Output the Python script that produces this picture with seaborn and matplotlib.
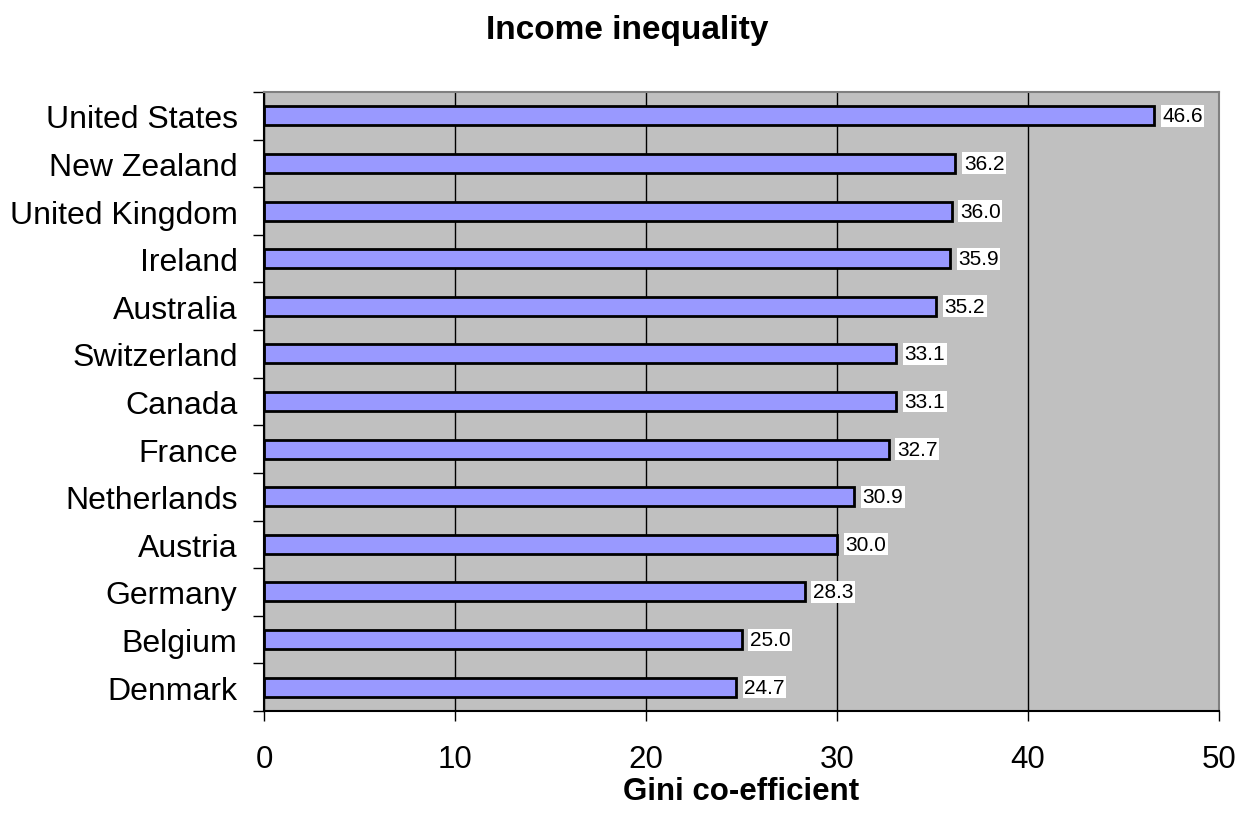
import matplotlib
matplotlib.use("Agg")
import matplotlib.pyplot as plt
import seaborn as sns
import pandas as pd
import numpy as np

# Gini co-efficient by country, highest first
countries = ["United States", "New Zealand", "United Kingdom", "Ireland",
             "Australia", "Switzerland", "Canada", "France", "Netherlands",
             "Austria", "Germany", "Belgium", "Denmark"]
gini = [46.6, 36.2, 36.0, 35.9, 35.2, 33.1, 33.1, 32.7, 30.9, 30.0, 28.3, 25.0, 24.7]
x_ticks = [0, 10, 20, 30, 40, 50]

plt.rcParams["font.family"] = ["Liberation Sans", "DejaVu Sans"]

df = pd.DataFrame({"country": countries, "gini": gini})

W, H = 1254, 828
fig = plt.figure(figsize=(W / 100, H / 100), dpi=100)
ax = fig.add_axes([264 / W, 1 - 712 / H, (1219 - 264) / W, (712 - 93) / H])
ax.set_facecolor("#C0C0C0")

sns.barplot(data=df, x="gini", y="country", order=countries, color="#9999FF",
            saturation=1, edgecolor="black", linewidth=2, width=0.4,
            errorbar=None, ax=ax)

ax.set_xlim(x_ticks[0], x_ticks[-1])
ax.set_ylim(len(countries) - 0.5, -0.5)

# vertical gridlines behind the bars
ax.set_axisbelow(True)
ax.xaxis.grid(True, color="black", linewidth=1)
ax.yaxis.grid(False)

# x axis
ax.set_xticks(x_ticks)
ax.tick_params(axis="x", direction="out", length=7, width=1, pad=17,
               labelsize=22.5, color="black")

# y axis: labels centred on bars, tick marks between categories
ax.set_yticks(range(len(countries)))
ax.set_yticklabels(countries)
ax.tick_params(axis="y", which="major", length=0, pad=19, labelsize=23)
ax.set_yticks(np.arange(-0.5, len(countries), 1.0), minor=True)
ax.tick_params(axis="y", which="minor", direction="out", length=8, width=1,
               color="black")

for side in ("left", "bottom"):
    ax.spines[side].set_color("black")
    ax.spines[side].set_linewidth(1.5)
for side in ("top", "right"):
    ax.spines[side].set_color("#808080")
    ax.spines[side].set_linewidth(1.5)

# value labels on white boxes
ax.bar_label(ax.containers[0], labels=[f"{v:.1f}" for v in gini],
             padding=6, fontsize=15,
             bbox=dict(facecolor="white", edgecolor="none", pad=1))

ax.set_ylabel("")
ax.set_xlabel("Gini co-efficient", fontsize=22.5, fontweight="bold", labelpad=1)

fig.text(0.5, 1 - 30 / H, "Income inequality", ha="center", va="center",
         fontsize=24, fontweight="bold")

fig.savefig("out.png", dpi=100)
